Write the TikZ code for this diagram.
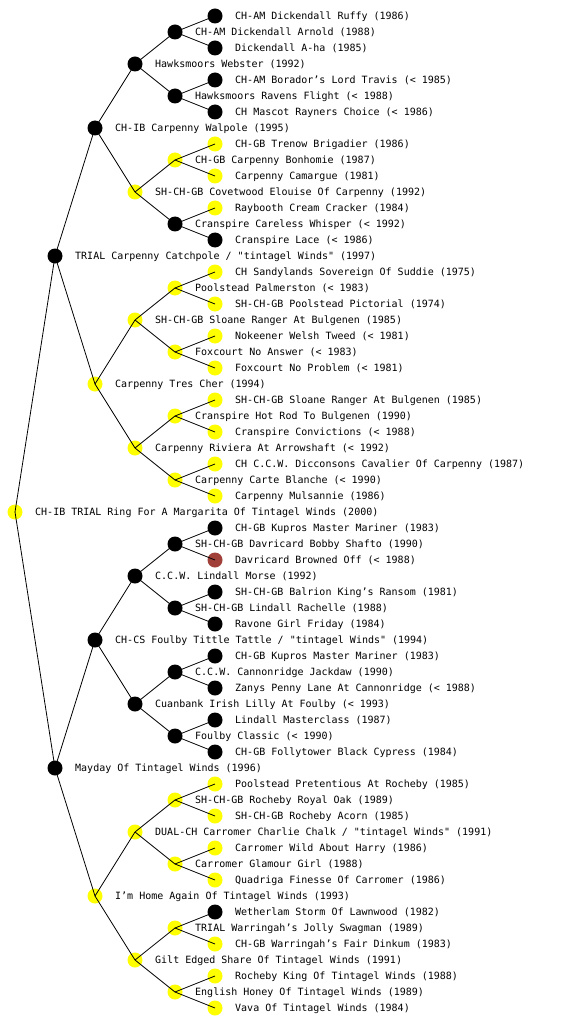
\documentclass[tikz,border=0pt]{standalone}
\usepackage{fontspec}
\setmonofont{DejaVu Sans Mono}
\definecolor{blk}{RGB}{0,0,0}
\definecolor{yel}{RGB}{255,255,0}
\definecolor{brn}{RGB}{160,64,56}
\tikzset{
  dot/.style={circle,minimum size=15pt,inner sep=0pt,draw=none,fill=#1},
  lbl/.style={anchor=base west,inner sep=0pt,font=\ttfamily\fontsize{10}{12}\selectfont},
  edge/.style={line width=0.8pt,black}
}
\newcommand\dog[5]{%
  \node[dot=#4] (n#1) at (#2,#3) {};
  \node[lbl] (t#1) at (#2+20,#3+3.8) {#5};}
\begin{document}
\begin{tikzpicture}[x=1pt,y=-1pt]
\useasboundingbox[fill=white] (0,0) rectangle (560,1024);
% generation 0
\dog{1}{15}{512}{yel}{CH-IB TRIAL Ring For A Margarita Of Tintagel Winds (2000)}
% generation 1
\dog{2}{55}{256}{blk}{TRIAL Carpenny Catchpole / "tintagel Winds" (1997)}
\dog{3}{55}{768}{blk}{Mayday Of Tintagel Winds (1996)}
% generation 2
\dog{4}{95}{128}{blk}{CH-IB Carpenny Walpole (1995)}
\dog{5}{95}{384}{yel}{Carpenny Tres Cher (1994)}
\dog{6}{95}{640}{blk}{CH-CS Foulby Tittle Tattle / "tintagel Winds" (1994)}
\dog{7}{95}{896}{yel}{I’m Home Again Of Tintagel Winds (1993)}
% generation 3
\dog{8}{135}{64}{blk}{Hawksmoors Webster (1992)}
\dog{9}{135}{192}{yel}{SH-CH-GB Covetwood Elouise Of Carpenny (1992)}
\dog{10}{135}{320}{yel}{SH-CH-GB Sloane Ranger At Bulgenen (1985)}
\dog{11}{135}{448}{yel}{Carpenny Riviera At Arrowshaft (< 1992)}
\dog{12}{135}{576}{blk}{C.C.W. Lindall Morse (1992)}
\dog{13}{135}{704}{blk}{Cuanbank Irish Lilly At Foulby (< 1993)}
\dog{14}{135}{832}{yel}{DUAL-CH Carromer Charlie Chalk / "tintagel Winds" (1991)}
\dog{15}{135}{960}{yel}{Gilt Edged Share Of Tintagel Winds (1991)}
% generation 4
\dog{16}{175}{32}{blk}{CH-AM Dickendall Arnold (1988)}
\dog{17}{175}{96}{blk}{Hawksmoors Ravens Flight (< 1988)}
\dog{18}{175}{160}{yel}{CH-GB Carpenny Bonhomie (1987)}
\dog{19}{175}{224}{blk}{Cranspire Careless Whisper (< 1992)}
\dog{20}{175}{288}{yel}{Poolstead Palmerston (< 1983)}
\dog{21}{175}{352}{yel}{Foxcourt No Answer (< 1983)}
\dog{22}{175}{416}{yel}{Cranspire Hot Rod To Bulgenen (1990)}
\dog{23}{175}{480}{yel}{Carpenny Carte Blanche (< 1990)}
\dog{24}{175}{544}{blk}{SH-CH-GB Davricard Bobby Shafto (1990)}
\dog{25}{175}{608}{blk}{SH-CH-GB Lindall Rachelle (1988)}
\dog{26}{175}{672}{blk}{C.C.W. Cannonridge Jackdaw (1990)}
\dog{27}{175}{736}{blk}{Foulby Classic (< 1990)}
\dog{28}{175}{800}{yel}{SH-CH-GB Rocheby Royal Oak (1989)}
\dog{29}{175}{864}{yel}{Carromer Glamour Girl (1988)}
\dog{30}{175}{928}{yel}{TRIAL Warringah’s Jolly Swagman (1989)}
\dog{31}{175}{992}{yel}{English Honey Of Tintagel Winds (1989)}
% generation 5
\dog{32}{215}{16}{blk}{CH-AM Dickendall Ruffy (1986)}
\dog{33}{215}{48}{blk}{Dickendall A-ha (1985)}
\dog{34}{215}{80}{blk}{CH-AM Borador’s Lord Travis (< 1985)}
\dog{35}{215}{112}{blk}{CH Mascot Rayners Choice (< 1986)}
\dog{36}{215}{144}{yel}{CH-GB Trenow Brigadier (1986)}
\dog{37}{215}{176}{yel}{Carpenny Camargue (1981)}
\dog{38}{215}{208}{yel}{Raybooth Cream Cracker (1984)}
\dog{39}{215}{240}{blk}{Cranspire Lace (< 1986)}
\dog{40}{215}{272}{yel}{CH Sandylands Sovereign Of Suddie (1975)}
\dog{41}{215}{304}{yel}{SH-CH-GB Poolstead Pictorial (1974)}
\dog{42}{215}{336}{yel}{Nokeener Welsh Tweed (< 1981)}
\dog{43}{215}{368}{yel}{Foxcourt No Problem (< 1981)}
\dog{44}{215}{400}{yel}{SH-CH-GB Sloane Ranger At Bulgenen (1985)}
\dog{45}{215}{432}{yel}{Cranspire Convictions (< 1988)}
\dog{46}{215}{464}{yel}{CH C.C.W. Dicconsons Cavalier Of Carpenny (1987)}
\dog{47}{215}{496}{yel}{Carpenny Mulsannie (1986)}
\dog{48}{215}{528}{blk}{CH-GB Kupros Master Mariner (1983)}
\dog{49}{215}{560}{brn}{Davricard Browned Off (< 1988)}
\dog{50}{215}{592}{blk}{SH-CH-GB Balrion King’s Ransom (1981)}
\dog{51}{215}{624}{blk}{Ravone Girl Friday (1984)}
\dog{52}{215}{656}{blk}{CH-GB Kupros Master Mariner (1983)}
\dog{53}{215}{688}{blk}{Zanys Penny Lane At Cannonridge (< 1988)}
\dog{54}{215}{720}{blk}{Lindall Masterclass (1987)}
\dog{55}{215}{752}{blk}{CH-GB Follytower Black Cypress (1984)}
\dog{56}{215}{784}{yel}{Poolstead Pretentious At Rocheby (1985)}
\dog{57}{215}{816}{yel}{SH-CH-GB Rocheby Acorn (1985)}
\dog{58}{215}{848}{yel}{Carromer Wild About Harry (1986)}
\dog{59}{215}{880}{yel}{Quadriga Finesse Of Carromer (1986)}
\dog{60}{215}{912}{blk}{Wetherlam Storm Of Lawnwood (1982)}
\dog{61}{215}{944}{yel}{CH-GB Warringah’s Fair Dinkum (1983)}
\dog{62}{215}{976}{yel}{Rocheby King Of Tintagel Winds (1988)}
\dog{63}{215}{1008}{yel}{Vava Of Tintagel Winds (1984)}
% connectors parent -> sire / dam
\foreach \k in {1,...,31}{
  \pgfmathtruncatemacro\ca{2*\k}
  \pgfmathtruncatemacro\cb{2*\k+1}
  \draw[edge] (n\k.center) -- (n\ca.center);
  \draw[edge] (n\k.center) -- (n\cb.center);
}
\end{tikzpicture}
\end{document}
